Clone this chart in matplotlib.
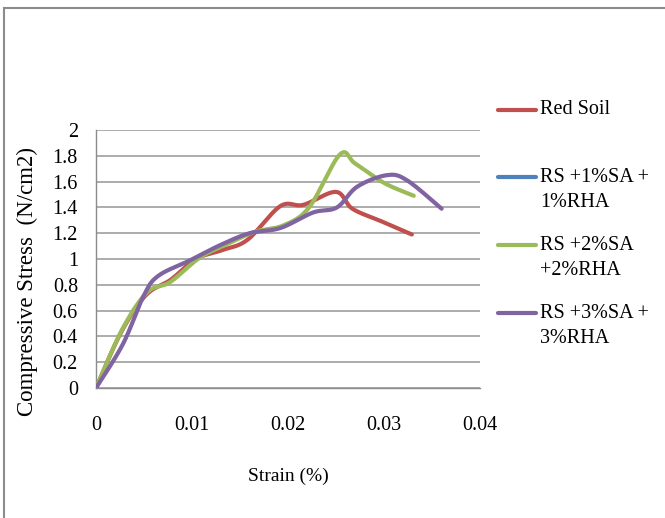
import numpy as np
import matplotlib
matplotlib.use("Agg")
import matplotlib.pyplot as plt
from matplotlib.lines import Line2D

# ---- data ----
series_labels = ["Red Soil", "RS +1%SA +\n1%RHA", "RS +2%SA\n+2%RHA", "RS +3%SA +\n3%RHA"]
series_colors = ["#C0504D", "#4F81BD", "#9BBB59", "#8064A2"]

red_strain = [0, 0.0026, 0.0052, 0.0078, 0.0104, 0.0132, 0.0158, 0.0192, 0.0216, 0.0250, 0.0267, 0.0298, 0.0329]
red_stress = [0, 0.43, 0.72, 0.84, 1.0, 1.07, 1.15, 1.41, 1.42, 1.52, 1.39, 1.29, 1.19]

blue_strain = []
blue_stress = []

green_strain = [0, 0.0027, 0.0053, 0.0077, 0.0108, 0.0135, 0.0165, 0.0195, 0.0222, 0.0254, 0.0270, 0.0300, 0.0331]
green_stress = [0, 0.45, 0.74, 0.82, 1.01, 1.11, 1.21, 1.26, 1.40, 1.81, 1.74, 1.59, 1.49]

purple_strain = [0, 0.0028, 0.0050, 0.0065, 0.0098, 0.0130, 0.0160, 0.0192, 0.0226, 0.0251, 0.0272, 0.0303, 0.0324, 0.0360]
purple_stress = [0, 0.34, 0.72, 0.87, 0.99, 1.11, 1.20, 1.24, 1.36, 1.40, 1.56, 1.65, 1.61, 1.39]

xticks = [0, 0.01, 0.02, 0.03, 0.04]
xtick_labels = ["0", "0.01", "0.02", "0.03", "0.04"]
yticks = [0, 0.2, 0.4, 0.6, 0.8, 1.0, 1.2, 1.4, 1.6, 1.8, 2.0]
ytick_labels = ["0", "0.2", "0.4", "0.6", "0.8", "1", "1.2", "1.4", "1.6", "1.8", "2"]
xlabel = "Strain (%)"
ylabel = "Compressive Stress  (N/cm2)"

series = [(red_strain, red_stress), (blue_strain, blue_stress),
          (green_strain, green_stress), (purple_strain, purple_stress)]

plt.rcParams['font.family'] = ['Liberation Serif', 'DejaVu Serif']

W, H = 665, 518
fig = plt.figure(figsize=(W / 100, H / 100), dpi=100)
ax = fig.add_axes([96 / W, 1 - 388 / H, (480 - 96) / W, (388 - 130) / H])
ax.set_xlim(0, 0.04)
ax.set_ylim(0, 2)


def smooth(xs, ys, sx=9600.0, sy=129.0, n=30):
    """Excel-style smoothed line (Catmull-Rom Bezier) in screen-scaled space."""
    P = np.column_stack([np.asarray(xs) * sx, np.asarray(ys) * sy])
    if len(P) < 3:
        return np.asarray(xs), np.asarray(ys)
    out = [P[0]]
    t = np.linspace(0, 1, n)[1:]
    for i in range(len(P) - 1):
        p0 = P[i - 1] if i > 0 else P[i]
        p1 = P[i]
        p2 = P[i + 1]
        p3 = P[i + 2] if i + 2 < len(P) else P[i + 1]
        c1 = p1 + (p2 - p0) / 6.0
        c2 = p2 - (p3 - p1) / 6.0
        for tt in t:
            b = ((1 - tt) ** 3) * p1 + 3 * ((1 - tt) ** 2) * tt * c1 + 3 * (1 - tt) * tt ** 2 * c2 + tt ** 3 * p2
            out.append(b)
    out = np.array(out)
    return out[:, 0] / sx, out[:, 1] / sy


for (xs, ys), c in zip(series, series_colors):
    if len(xs) == 0:
        continue
    sxv, syv = smooth(xs, ys)
    ax.plot(sxv, syv, color=c, lw=3.0, solid_capstyle='round', solid_joinstyle='round', zorder=3)

ax.set_xticks(xticks)
ax.set_xticklabels(xtick_labels)
ax.set_yticks(yticks)
ax.set_yticklabels(ytick_labels)
ax.tick_params(axis='both', length=0, labelsize=14.5)
ax.tick_params(axis='y', pad=13)
ax.tick_params(axis='x', pad=20)
ax.grid(axis='y', color='#A6A6A6', lw=1.3)
ax.set_axisbelow(True)
for s in ['top', 'right']:
    ax.spines[s].set_visible(False)
for s in ['left', 'bottom']:
    ax.spines[s].set_color('#8C8C8C')
    ax.spines[s].set_linewidth(1.0)

fig.text(288 / W, 1 - 476 / H, xlabel, ha='center', va='center', fontsize=14)
fig.text(27 / W, 1 - 282 / H, ylabel, ha='center', va='center', rotation=90, fontsize=16.5)

# legend (manual, handle aligned with first text line)
leg_y = [110, 177, 245, 313]
line_gap = 25.5
for lab, c, y0 in zip(series_labels, series_colors, leg_y):
    fig.add_artist(Line2D([498 / W, 536 / W], [1 - y0 / H, 1 - y0 / H], color=c, lw=3.0,
                          solid_capstyle='round'))
    for k, part in enumerate(lab.split("\n")):
        fig.text(540 / W, 1 - (y0 + k * line_gap) / H, part, ha='left', va='center', fontsize=14.5)

# outer chart border (left and top visible)
fig.add_artist(Line2D([4 / W, 4 / W], [0, 1 - 8 / H], color='#8C8C8C', lw=1.5))
fig.add_artist(Line2D([4 / W, 1], [1 - 8 / H, 1 - 8 / H], color='#8C8C8C', lw=1.5))

fig.savefig("out.png", dpi=100)
